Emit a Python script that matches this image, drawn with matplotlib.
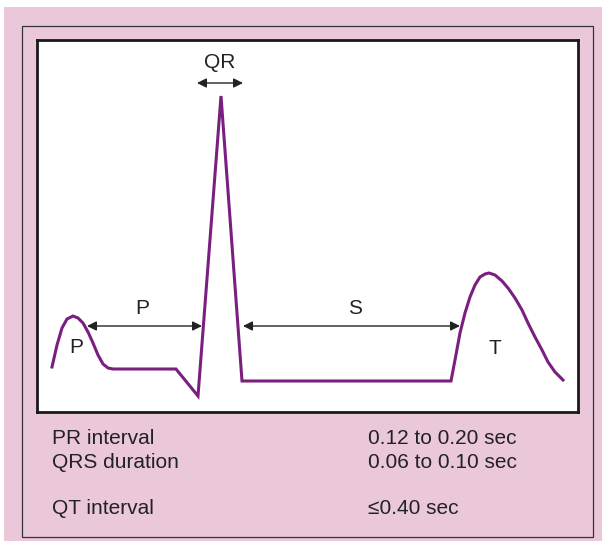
import matplotlib.pyplot as plt
from matplotlib.patches import Rectangle

plt.rcParams['font.family'] = ['Liberation Sans', 'DejaVu Sans']

# waveform (x to the right, y downward, picture pixels)
wave_x = [52, 57, 62, 67, 73, 78, 83, 88, 93, 98, 103, 108, 113,
          176, 198, 221, 242, 451,
          455, 460, 465, 470, 475, 480, 485, 489, 495, 502, 508, 515, 522,
          528, 535, 542, 548, 555, 563]
wave_y = [367, 345, 328, 319, 316, 318, 323, 332, 343, 355, 364, 368, 369,
          369, 396, 96, 381, 381,
          360, 333, 313, 297, 285, 277, 274, 273, 275, 281, 288, 298, 310,
          323, 337, 350, 362, 372, 380]

# interval arrows: (start, end, height) and their labels
arrows = [(87, 202, 326), (243, 460, 326), (197, 243, 83)]
labels = ['P', 'S', 'QR', 'P', 'T']
label_x = [142, 355, 220, 76, 495]
label_y = [309, 309, 63, 348, 349]

rows = ['PR interval', 'QRS duration', 'QT interval']
values = ['0.12 to 0.20 sec', '0.06 to 0.10 sec', '\u22640.40 sec']
row_y = [439, 462, 508]

pink = '#ebc8d9'
purple = '#7a1f80'
W, H = 602, 541

fig = plt.figure(figsize=(W / 100, H / 100), dpi=100, facecolor='white')
bg = fig.add_axes([0, 0, 1, 1])
bg.set_xlim(0, W)
bg.set_ylim(H, 0)
bg.axis('off')
bg.add_patch(Rectangle((4, 7), W - 4, H - 7, facecolor=pink, edgecolor='none'))
bg.add_patch(Rectangle((22, 26), 571, 511, facecolor='none', edgecolor='#333333', lw=0.9))

for name, val, y in zip(rows, values, row_y):
    bg.text(52, y, name, fontsize=15, color='#222222', va='center')
    bg.text(368, y, val, fontsize=15, color='#222222', va='center')

x0, x1, y0, y1 = 37, 578, 40, 412
ax = fig.add_axes([x0 / W, 1 - y1 / H, (x1 - x0) / W, (y1 - y0) / H])
ax.set_xlim(x0, x1)
ax.set_ylim(y1, y0)
ax.set_facecolor('white')
ax.set_xticks([])
ax.set_yticks([])
for s in ax.spines.values():
    s.set_linewidth(2)
    s.set_color('#1a1a1a')

ax.plot(wave_x, wave_y, color=purple, lw=2.2, solid_joinstyle='miter')

for a, b, y in arrows:
    ax.annotate('', xy=(a, y), xytext=(b, y),
                arrowprops=dict(arrowstyle='<|-|>', color='#222222', lw=1,
                                mutation_scale=14, shrinkA=0, shrinkB=0))

for t, x, y in zip(labels, label_x, label_y):
    ax.text(x, y, t, fontsize=15, color='#222222', ha='center', va='center')

fig.savefig('out.png', dpi=100)
